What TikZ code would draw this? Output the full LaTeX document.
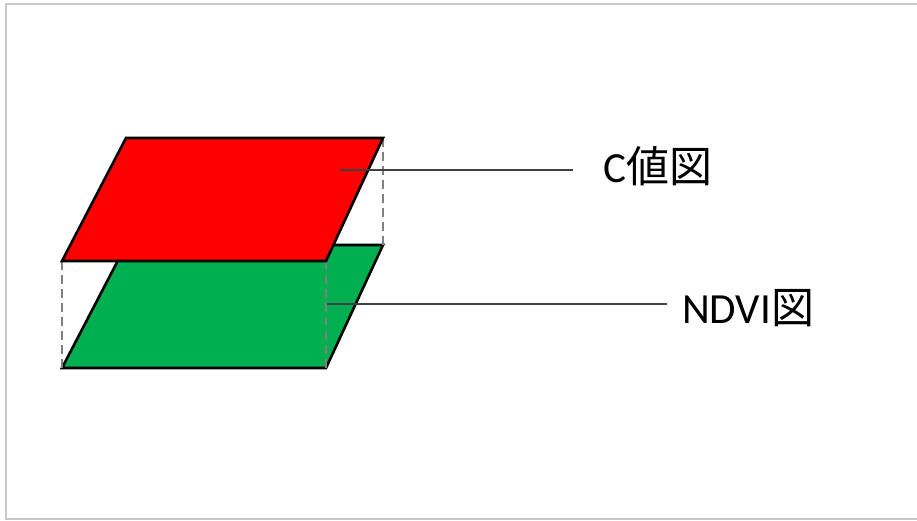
\documentclass[tikz,border=0pt]{standalone}
\usepackage{fontspec}
\setmainfont{Carlito}
\newfontfamily\cjk{Noto Sans CJK JP}
\definecolor{planered}{HTML}{FF0000}
\definecolor{planegreen}{HTML}{00B050}
\definecolor{framegray}{HTML}{C8C8C8}
\definecolor{leadgray}{HTML}{404040}
\begin{document}
\begin{tikzpicture}[x=1pt,y=-1pt,
  plane/.style={draw=black,line width=2.6pt,line join=miter},
  hidden/.style={draw=gray,line width=2.4pt,dash pattern=on 9pt off 5pt},
  leader/.style={draw=leadgray,line width=2.4pt},
  lbl/.style={anchor=base west,inner sep=0pt,font=\fontsize{43}{50}\selectfont}]
\useasboundingbox (0,0) rectangle (917,520);
\draw[framegray,line width=2.4pt] (918,4) -- (6,4) -- (6,519) -- (918,519);
% green (lower) plane
\coordinate (g1) at (126,245);
\coordinate (g2) at (383,245);
\coordinate (g3) at (326,368);
\coordinate (g4) at (62,368);
% red (upper) plane
\coordinate (r1) at (126,138);
\coordinate (r2) at (383,138);
\coordinate (r3) at (326,261);
\coordinate (r4) at (62,261);
\draw[plane,fill=planegreen] (g1) -- (g2) -- (g3) -- (g4) -- cycle;
\draw[hidden] (r4) -- (g4);
\draw[hidden] (r3) -- (g3);
\draw[hidden] (r2) -- (g2);
\draw[plane,fill=planered] (r1) -- (r2) -- (r3) -- (r4) -- cycle;
% labels
\node[lbl] (cval) at (603,182) {C{\cjk 値図}};
\node[lbl] (ndvi) at (682,323) {NDVI{\cjk 図}};
\coordinate (cstart) at (340,170);
\coordinate (cend) at (573,170);
\coordinate (nstart) at (327,304);
\coordinate (nend) at (667,304);
\draw[leader] (cstart) -- (cend);
\draw[leader] (nstart) -- (nend);
\end{tikzpicture}
\end{document}
